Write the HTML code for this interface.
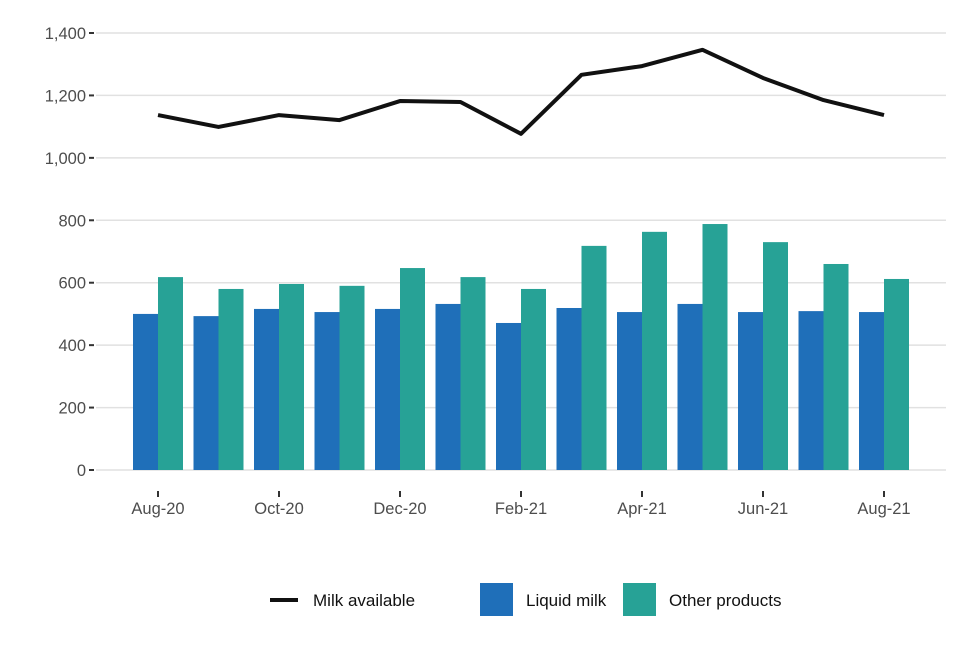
<!DOCTYPE html>
<html><head><meta charset="utf-8"><style>
body{margin:0;background:#fff;font-family:"Liberation Sans",sans-serif;}
text{font-family:"Liberation Sans",sans-serif;}
</style></head><body>
<svg id="chart" width="960" height="640"></svg>
<script>
const months=["Aug-20","Sep-20","Oct-20","Nov-20","Dec-20","Jan-21","Feb-21","Mar-21","Apr-21","May-21","Jun-21","Jul-21","Aug-21"];
const liquid=[500,493,516,506,516,532,471,519,506,532,506,509,506];
const other=[618,580,596,590,647,618,580,718,763,788,730,660,612];
const available=[1137,1099,1137,1121,1182,1179,1077,1266,1294,1346,1256,1185,1137];
const yTicks=[0,200,400,600,800,1000,1200,1400];
const xLabelIdx=[0,2,4,6,8,10,12];
const svg=document.getElementById('chart');
const NS='http://www.w3.org/2000/svg';
const y=v=>470-v*437/1400;
const x=i=>158+i*60.5;
function el(t,a){const e=document.createElementNS(NS,t);for(const k in a)e.setAttribute(k,a[k]);svg.appendChild(e);return e;}
yTicks.forEach(v=>{
 const g=el('line',{x1:96,x2:946,y1:y(v),y2:y(v),stroke:'#e1e1e1','stroke-width':1.5});
 
 
 const tk=el('line',{x1:89,x2:94,y1:y(v),y2:y(v),stroke:'#333','stroke-width':2});
 
 
 const t=el('text',{x:86,y:y(v)+6,'text-anchor':'end','font-size':16.5,fill:'#4d4d4d'});
 t.textContent=v.toLocaleString('en-US');
 
 
});
months.forEach((m,i)=>{
 const b=el('rect',{x:x(i)-25,y:y(liquid[i]),width:25,height:y(0)-y(liquid[i]),fill:'#1f6fb9'});
 
 
 const o=el('rect',{x:x(i),y:y(other[i]),width:25,height:y(0)-y(other[i]),fill:'#27a296'});
 
 
});
xLabelIdx.forEach(i=>{
 const tk=el('line',{x1:x(i),x2:x(i),y1:491,y2:497,stroke:'#333','stroke-width':2});
 
 
 const t=el('text',{x:x(i),y:514,'text-anchor':'middle','font-size':16.5,fill:'#4d4d4d'});
 t.textContent=months[i];
 
 
});
const p=el('polyline',{points:available.map((v,i)=>x(i)+','+y(v)).join(' '),fill:'none',stroke:'#111','stroke-width':4,'stroke-linejoin':'round'});


const l1=el('line',{x1:270,x2:298,y1:600,y2:600,stroke:'#111','stroke-width':4});


const t1=el('text',{x:313,y:606,'font-size':17,fill:'#111'});t1.textContent='Milk available';


const r2=el('rect',{x:480,y:583,width:33,height:33,fill:'#1f6fb9'});


const t2=el('text',{x:526,y:606,'font-size':17,fill:'#111'});t2.textContent='Liquid milk';


const r3=el('rect',{x:623,y:583,width:33,height:33,fill:'#27a296'});


const t3=el('text',{x:669,y:606,'font-size':17,fill:'#111'});t3.textContent='Other products';


</script>
</body></html>
